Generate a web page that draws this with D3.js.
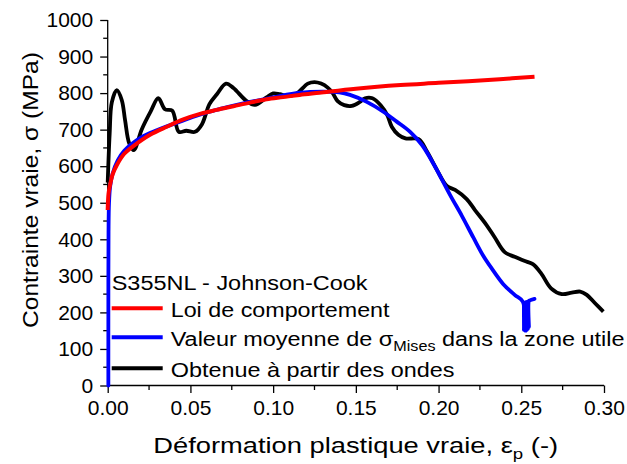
<!DOCTYPE html>
<html>
<head>
<meta charset="utf-8">
<script src="https://cdn.jsdelivr.net/npm/d3@7/dist/d3.min.js"></script>
<style>
  html, body { margin: 0; padding: 0; background: #fff; }
  svg { display: block; }
  text { font-family: "Liberation Sans", Arial, Helvetica, sans-serif; fill: #000; }
</style>
</head>
<body>
<svg id="chart" width="627" height="464"></svg>
<script>
// Axis ticks
const xTicks = [0.00, 0.05, 0.10, 0.15, 0.20, 0.25, 0.30];
const yTicks = [0, 100, 200, 300, 400, 500, 600, 700, 800, 900, 1000];

// Johnson-Cook constitutive law (red)
const lawStrain = [0, 0.0005, 0.0014, 0.003, 0.0054, 0.01, 0.0155, 0.0256, 0.0357, 0.0457, 0.0558, 0.0659, 0.076, 0.086, 0.096, 0.106, 0.116, 0.128, 0.15, 0.177, 0.2, 0.237, 0.258];
const lawStress = [480, 525, 548, 578, 602, 634, 655, 686, 708, 728, 743, 754, 764, 774, 783, 789, 795, 801, 812, 822, 828, 838, 845];

// Mean von Mises stress in the gauge zone (blue), ending with the noisy last increments
const misesStrain = [0.0004, 0.0004, 0.0005, 0.0008, 0.0015, 0.003, 0.006, 0.01, 0.02, 0.03, 0.045, 0.06, 0.08, 0.1, 0.116, 0.13, 0.14, 0.1465, 0.1566, 0.1666, 0.1747, 0.1828, 0.19, 0.197, 0.207, 0.214, 0.221, 0.227, 0.232, 0.239, 0.246, 0.251,
  0.2516, 0.2516, 0.2522, 0.2522, 0.2528, 0.2528, 0.2534, 0.2534, 0.254, 0.254, 0.2546, 0.2546, 0.2552, 0.258];
const misesStress = [0, 200, 420, 500, 545, 580, 615, 642, 678, 699, 724, 747, 770, 788, 801, 804, 802, 795, 776, 749, 722, 694, 658, 606, 521, 465, 405, 355, 321, 278, 248, 229,
  152, 226, 150, 227, 150, 228, 152, 229, 155, 230, 160, 231, 233, 237];

// Curve obtained from the waves (black)
const waveStrain = [0, 0.0012, 0.0025, 0.0055, 0.0085, 0.0105, 0.013, 0.0158, 0.0205, 0.026, 0.0306, 0.0346, 0.039, 0.043, 0.0475, 0.0528, 0.057, 0.0615, 0.066, 0.0715, 0.076, 0.084, 0.089, 0.096, 0.100, 0.104, 0.109, 0.114, 0.121, 0.125, 0.129, 0.133, 0.136, 0.139, 0.143, 0.1475, 0.1525, 0.1556, 0.160, 0.165, 0.169, 0.1717, 0.1757, 0.180, 0.188, 0.193, 0.199, 0.205, 0.210, 0.217, 0.222, 0.229, 0.234, 0.240, 0.246, 0.253, 0.257, 0.262, 0.268, 0.2745, 0.2805, 0.2856, 0.2896, 0.2946, 0.2996];
const waveStress = [555, 690, 775, 808, 781, 726, 663, 644, 700, 750, 786, 756, 752, 694, 697, 694, 715, 770, 797, 826, 814, 778, 768, 788, 799, 797, 792, 798, 826, 830, 826, 815, 800, 778, 767, 765, 776, 786, 786, 767, 740, 708, 686, 676, 674, 640, 590, 546, 535, 510, 480, 439, 405, 365, 352, 339, 332, 307, 266, 250, 254, 257, 248, 225, 202];

const legendTitle = "S355NL - Johnson-Cook";

const svg = d3.select("#chart");
const x = d3.scaleLinear().domain([0, 0.30]).range([107.7, 604]);
const y = d3.scaleLinear().domain([0, 1000]).range([385.5, 20]);

// stretch a text element horizontally to a given rendered length
function fitText(sel, target, tx, ty, rot) {
  const w = sel.node().getComputedTextLength();
  const s = target / w;
  sel.attr("transform", `translate(${tx},${ty}) rotate(${rot || 0}) scale(${s},1)`);
}

// Axes
const xAxis = d3.axisBottom(x).tickValues(xTicks).tickSize(7.5).tickPadding(6).tickFormat(d3.format(".2f"));
const gx = svg.append("g").attr("transform", `translate(0,${y(0)})`).call(xAxis);
const yAxis = d3.axisLeft(y).tickValues(yTicks).tickSize(7.5).tickPadding(7).tickFormat(d3.format("d"));
const gy = svg.append("g").attr("transform", `translate(${x(0)},0)`).call(yAxis);
[gx, gy].forEach(g => {
  g.select(".domain").attr("stroke", "#000").attr("stroke-width", 1.3).attr("d", null);
  g.selectAll(".tick line").attr("stroke", "#000").attr("stroke-width", 1.3);
  g.selectAll(".tick text").style("font-size", "21px").attr("fill", "#000");
});
gx.select(".domain").attr("d", `M${x(0)},0H${x(0.30)}`);
gy.select(".domain").attr("d", `M0,${y(0)}V${y(1000)}`);
gx.selectAll(".tick text").attr("dy", "0.71em").attr("y", 14.5);

// Minor ticks
const xMinor = d3.range(0.025, 0.30, 0.05);
const yMinor = d3.range(50, 1000, 100);
gx.selectAll(".minor").data(xMinor).enter().append("line")
  .attr("x1", d => x(d)).attr("x2", d => x(d)).attr("y1", 0).attr("y2", 4.5)
  .attr("stroke", "#000").attr("stroke-width", 1.3);
gy.selectAll(".minor").data(yMinor).enter().append("line")
  .attr("y1", d => y(d)).attr("y2", d => y(d)).attr("x1", 0).attr("x2", -4.5)
  .attr("stroke", "#000").attr("stroke-width", 1.3);

// Curves
const zip = (a, b) => a.map((v, i) => [v, b[i]]);
const line = d3.line().x(d => x(d[0])).y(d => y(d[1])).curve(d3.curveCatmullRom.alpha(0.5));

svg.append("path").datum(zip(waveStrain, waveStress)).attr("d", line)
  .attr("fill", "none").attr("stroke", "#000").attr("stroke-width", 3.8).attr("stroke-linejoin", "round");
svg.append("path").datum(zip(misesStrain, misesStress)).attr("d", line)
  .attr("fill", "none").attr("stroke", "#0000ff").attr("stroke-width", 3.8).attr("stroke-linejoin", "round").attr("stroke-linecap", "round");
svg.append("path").datum(zip(lawStrain, lawStress)).attr("d", line)
  .attr("fill", "none").attr("stroke", "#ff0000").attr("stroke-width", 4).attr("stroke-linejoin", "round");

// Legend
const lg = svg.append("g");
const t0 = lg.append("text").attr("x", 0).attr("y", 0).style("font-size", "21px").text(legendTitle);
fitText(t0, 256, 111.7, 290);

const entries = [
  { color: "#ff0000", y: 308.3, base: 317 },
  { color: "#0000ff", y: 337.3, base: 345.5 },
  { color: "#000000", y: 368.3, base: 377 }
];
entries.forEach(e => {
  lg.append("line").attr("x1", 111.7).attr("x2", 162.7).attr("y1", e.y).attr("y2", e.y)
    .attr("stroke", e.color).attr("stroke-width", 4);
});
const l1 = lg.append("text").style("font-size", "21px").text("Loi de comportement");
fitText(l1, 219, 170.7, entries[0].base);
const l2 = lg.append("text").style("font-size", "21px");
l2.append("tspan").text("Valeur moyenne de σ");
l2.append("tspan").attr("dy", 5).style("font-size", "14.5px").text("Mises");
l2.append("tspan").attr("dy", -5).text(" dans la zone utile");
fitText(l2, 454, 170.7, entries[1].base);
const l3 = lg.append("text").style("font-size", "21px").text("Obtenue à partir des ondes");
fitText(l3, 284, 170.7, entries[2].base);

// Axis titles
const xt = svg.append("text").style("font-size", "22px");
xt.append("tspan").text("Déformation plastique vraie, ε");
xt.append("tspan").attr("dy", 6).style("font-size", "15px").text("p");
xt.append("tspan").attr("dy", -6).text(" (-)");
fitText(xt, 405, 153.3, 453);

const yt = svg.append("text").style("font-size", "22px").text("Contrainte vraie, σ (MPa)");
fitText(yt, 276, 37.5, 328, -90);
</script>
</body>
</html>
